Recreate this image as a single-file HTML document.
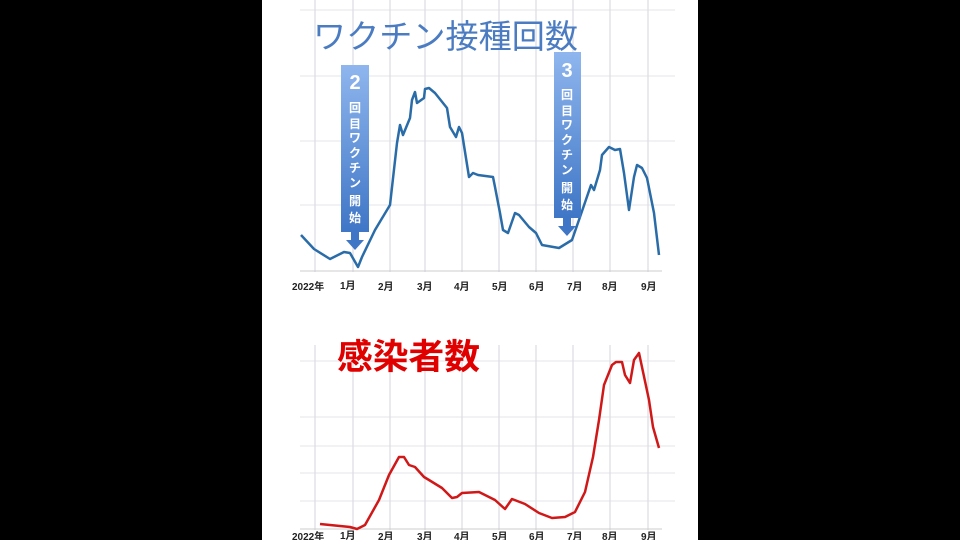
<!DOCTYPE html>
<html><head><meta charset="utf-8"><style>
body{margin:0;background:#000;width:960px;height:540px;overflow:hidden}
svg{display:block}
text{font-family:"Liberation Sans","Noto Sans CJK JP",sans-serif}
</style></head><body>
<svg width="960" height="540" viewBox="0 0 960 540">
<defs><linearGradient id="g" x1="0" x2="0" y1="0" y2="1"><stop offset="0" stop-color="#8fb6ee"/><stop offset="1" stop-color="#3f76c6"/></linearGradient></defs>
<rect x="262" y="0" width="436" height="540" fill="#fff"/>
<g stroke="#e4e4e8" stroke-width="1">
<line x1="300" x2="675" y1="10" y2="10"/><line x1="300" x2="675" y1="76" y2="76"/><line x1="300" x2="675" y1="141" y2="141"/><line x1="300" x2="675" y1="205" y2="205"/>
<line x1="300" x2="675" y1="361" y2="361"/><line x1="300" x2="675" y1="417" y2="417"/><line x1="300" x2="675" y1="446" y2="446"/><line x1="300" x2="675" y1="473" y2="473"/><line x1="300" x2="675" y1="501" y2="501"/>
</g>
<g stroke="#dcdce2" stroke-width="1.2">
<path d="M315 0V272M353 0V272M390 0V272M425 0V272M462 0V272M499 0V272M536 0V272M573 0V272M610 0V272M648 0V272"/>
<path d="M315 345V530M353 345V530M390 345V530M425 345V530M462 345V530M499 345V530M536 345V530M573 345V530M610 345V530M648 345V530"/>
</g>
<line x1="300" x2="662" y1="271" y2="271" stroke="#ccc"/>
<line x1="300" x2="662" y1="529" y2="529" stroke="#ccc"/>
<text x="313" y="48" font-size="33" fill="#4b7cc2" textLength="265" lengthAdjust="spacingAndGlyphs">ワクチン接種回数</text>
<text x="337" y="369" font-size="35" fill="#e00000" font-weight="bold" textLength="143" lengthAdjust="spacingAndGlyphs">感染者数</text>
<polyline fill="none" stroke="#2a6ca8" stroke-width="2.5" stroke-linejoin="round" points="301,235 314,249 330,259 344,252 350,253 358,267 362,257 375,230 390,205 397,143 400,125 403,135 410,118 412,100 415,92 417,103 424,98 425,89 429,88 435,93 447,108 450,127 456,137 459,127 462,133 469,177 473,173 478,175 493,177 495,187 500,213 503,230 508,233 515,213 519,215 529,227 536,233 542,245 559,248 572,240 580,217 591,185 594,190 600,170 602,155 609,147 615,150 620,149 624,173 629,210 634,177 637,165 642,168 647,178 654,213 659,255"/>
<polyline fill="none" stroke="#d01818" stroke-width="2.5" stroke-linejoin="round" points="320,524 350,527 357,529 365,525 379,500 389,475 399,457 404,457 409,465 415,467 424,477 429,480 442,488 452,498 457,497 462,493 479,492 489,497 495,500 505,509 512,499 525,504 539,513 552,518 565,517 575,512 585,492 593,457 599,420 604,385 612,365 616,362 622,362 625,375 630,383 634,360 639,353 649,400 653,427 659,448"/>
<g>
<rect x="341" y="65" width="28" height="167" fill="url(#g)"/>
<path d="M351 232h8v8h5l-9 10-9-10h5z" fill="#3f76c6"/>
<text x="355" y="89" font-size="20" fill="#fff" text-anchor="middle" font-weight="bold">2</text>
<g font-size="12" fill="#fff" text-anchor="middle" font-weight="bold"><text x="355" y="112">回</text><text x="355" y="128">目</text><text x="355" y="142">ワ</text><text x="355" y="157">ク</text><text x="355" y="172">チ</text><text x="355" y="187">ン</text><text x="355" y="205">開</text><text x="355" y="222">始</text></g>
<rect x="554" y="52" width="27" height="166" fill="url(#g)"/>
<path d="M563 218h8v8h5l-9 10-9-10h5z" fill="#3f76c6"/>
<text x="567" y="77" font-size="20" fill="#fff" text-anchor="middle" font-weight="bold">3</text>
<g font-size="12" fill="#fff" text-anchor="middle" font-weight="bold"><text x="567" y="99">回</text><text x="567" y="115">目</text><text x="567" y="129">ワ</text><text x="567" y="144">ク</text><text x="567" y="159">チ</text><text x="567" y="174">ン</text><text x="567" y="192">開</text><text x="567" y="209">始</text></g>
</g>
<g font-size="10" fill="#222" font-weight="bold">
<text x="292" y="290">2022年</text><text x="340" y="289">1月</text><text x="378" y="290">2月</text><text x="417" y="290">3月</text><text x="454" y="290">4月</text><text x="492" y="290">5月</text><text x="529" y="290">6月</text><text x="567" y="290">7月</text><text x="602" y="290">8月</text><text x="641" y="290">9月</text>
<text x="292" y="540">2022年</text><text x="340" y="539">1月</text><text x="378" y="540">2月</text><text x="417" y="540">3月</text><text x="454" y="540">4月</text><text x="492" y="540">5月</text><text x="529" y="540">6月</text><text x="567" y="540">7月</text><text x="602" y="540">8月</text><text x="641" y="540">9月</text>
</g>
</svg>
</body></html>
